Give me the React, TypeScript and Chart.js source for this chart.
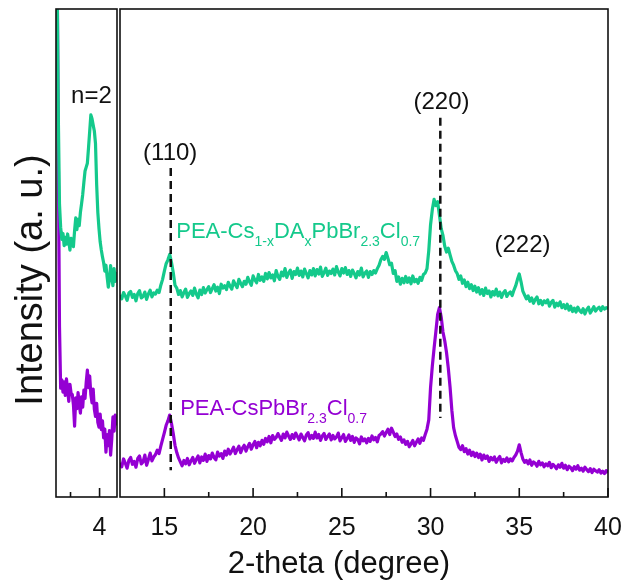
import React, { useEffect, useRef } from 'react';
import { Chart, registerables } from 'chart.js';

Chart.register(...registerables);

const FONT = '"Liberation Sans", Arial, Helvetica, sans-serif';
const GREEN = '#14C98B';
const PURPLE = '#9400D3';
const INK = '#111111';

// ---------- Left panel (low-angle region, n=2 phase) ----------
const LEFT_MIN = 3.25;
const LEFT_MAX = 4.3;
const LEFT_START = 3.25;
const LEFT_STEP = 0.02;
const leftTicks = [4];
const leftMinorTicks = [3.5];

const leftGreen = [
  140, 105, 78, 60, 55.3, 52.8, 54.0, 51.5, 53.2, 51.8, 53.9, 52.4, 50.6,
  53.0, 52.1, 51.3, 54.6, 57.2, 54.8, 56.9, 55.6, 58.3, 60.1, 62.0, 64.5, 66.8,
  67.6, 68.4, 71.6, 74.9, 78.3, 77.5, 76.2, 75.0, 72.4, 64.0, 58.3, 55.0,
  52.3, 50.6, 49.2, 48.0, 46.3, 47.5, 45.1, 43.0, 44.6, 47.4, 45.0, 43.3, 46.8, 44.2, 45.6, 46.0,
];

const leftPurple = [
  150, 110, 70, 35, 22.3, 24.0, 21.5, 23.6, 20.8, 24.2, 22.0, 19.6, 23.1,
  21.2, 21.0, 18.9, 14.5, 20.3, 18.1, 21.4, 19.0, 17.2, 20.5, 18.4, 21.9, 20.2,
  23.5, 26.0, 22.4, 24.8, 21.0, 19.3, 22.1, 18.0, 16.5, 19.2, 15.3, 14.3,
  17.0, 13.8, 15.6, 12.1, 13.9, 9.2, 12.8, 10.5, 13.6, 8.6, 11.9, 16.4, 13.5, 16.8, 15.0, 16.0,
];

// ---------- Right panel (12.5 - 40 degrees) ----------
const RIGHT_MIN = 12.5;
const RIGHT_MAX = 40;
const RIGHT_START = 12.5;
const RIGHT_STEP = 0.1;
const rightTicks = [15, 20, 25, 30, 35, 40];
const rightMinorTicks = [17.5, 22.5, 27.5, 32.5, 37.5];

const rightGreen = [
  41.4, 40.6, 41.9, 41.2, 40.3, 41.8, 42.1, 40.9, 41.5, 40.2, // 12.5
  41.7, 42.3, 40.8, 41.1, 42.0, 40.5, 41.6, 42.4, 41.0, 41.8, // 13.5
  41.6, 42.4, 41.9, 43.4, 44.6, 46.3, 47.8, 48.6, 49.7, 48.1, // 14.5
  46.0, 43.4, 42.8, 41.5, 42.3, 41.0, 41.9, 42.6, 40.9, 41.7, // 15.5
  42.2, 41.3, 42.8, 41.6, 40.8, 42.4, 41.5, 42.9, 41.8, 42.5, // 16.5
  43.1, 41.9, 42.7, 43.5, 42.2, 43.0, 41.7, 43.6, 42.8, 43.3, // 17.5
  42.5, 44.0, 43.2, 42.6, 44.3, 43.5, 42.9, 44.6, 43.8, 43.1, // 18.5
  44.2, 43.6, 45.0, 44.1, 43.4, 45.3, 44.5, 43.9, 45.6, 44.4, // 19.5
  45.1, 44.2, 45.8, 44.7, 46.0, 44.9, 45.5, 44.3, 46.4, 45.2, // 20.5
  44.6, 46.1, 45.3, 46.8, 45.0, 45.9, 46.5, 44.8, 46.2, 45.6, // 21.5
  46.9, 45.4, 46.3, 45.1, 46.7, 45.8, 44.9, 46.4, 45.5, 46.8, // 22.5
  45.3, 46.6, 45.7, 47.1, 45.2, 46.0, 46.9, 45.4, 46.3, 45.8, // 23.5
  46.7, 45.5, 47.2, 46.1, 45.3, 46.8, 45.9, 47.0, 45.6, 46.4, // 24.5
  45.2, 46.5, 45.8, 44.9, 46.2, 45.5, 46.9, 45.1, 45.9, 46.3, // 25.5
  45.0, 46.2, 45.6, 46.4, 45.9, 46.8, 47.5, 48.6, 49.3, 48.7, // 26.5
  50.1, 48.9, 47.6, 47.9, 45.8, 46.4, 44.2, 45.1, 43.6, 44.8, // 27.5
  43.9, 45.2, 44.0, 44.9, 43.7, 45.3, 44.1, 44.6, 43.8, 45.0, // 28.5
  44.4, 45.6, 45.9, 46.8, 50.5, 55.8, 58.9, 61.0, 59.7, 60.5, // 29.5
  57.8, 55.0, 53.6, 51.4, 50.2, 51.0, 49.6, 48.3, 47.5, 46.4, // 30.5
  45.8, 44.6, 45.3, 43.8, 44.5, 43.1, 44.0, 42.7, 43.5, 42.3, // 31.5
  43.2, 42.0, 42.9, 41.6, 42.5, 41.3, 42.8, 41.7, 42.2, 41.0, // 32.5
  42.1, 41.4, 42.6, 41.2, 42.0, 40.9, 41.8, 42.3, 41.1, 41.7, // 33.5
  42.0, 41.3, 42.4, 43.3, 44.6, 45.7, 44.1, 42.2, 41.4, 40.6, // 34.5
  41.2, 40.1, 40.8, 39.7, 40.5, 41.0, 39.6, 40.3, 39.4, 40.2, // 35.5
  39.8, 40.4, 39.1, 39.9, 40.3, 38.9, 39.7, 39.2, 40.0, 38.8, // 36.5
  39.4, 38.6, 39.5, 38.3, 39.1, 38.0, 38.7, 37.9, 38.9, 38.2, // 37.5
  37.8, 38.6, 37.5, 38.4, 38.9, 37.7, 38.3, 39.0, 38.1, 38.6, // 38.5
  38.9, 38.2, 39.0, 38.5, 38.8, 38.6, // 39.5
];

const rightPurple = [
  7.0, 6.2, 7.8, 6.9, 5.9, 7.5, 8.1, 6.7, 7.3, 6.1, // 12.5
  7.9, 8.4, 6.8, 7.2, 8.6, 6.5, 7.7, 9.0, 7.4, 8.2, // 13.5
  8.7, 9.6, 8.9, 10.4, 11.8, 13.2, 14.7, 15.6, 16.8, 15.1, // 14.5
  13.0, 10.6, 9.1, 8.0, 7.2, 6.4, 7.5, 6.8, 7.9, 6.6, // 15.5
  7.4, 8.1, 6.9, 7.7, 8.4, 7.0, 8.2, 7.5, 8.8, 7.3, // 16.5
  8.5, 7.8, 9.0, 8.1, 7.6, 9.2, 8.4, 8.9, 7.9, 9.4, // 17.5
  8.6, 9.8, 8.8, 9.5, 10.2, 8.9, 9.7, 10.4, 9.1, 10.0, // 18.5
  10.6, 9.4, 10.3, 11.0, 9.8, 10.7, 11.4, 10.1, 11.2, 10.5, // 19.5
  11.6, 10.8, 12.0, 11.3, 12.4, 11.1, 12.6, 11.8, 12.2, 13.0, // 20.5
  12.3, 11.6, 12.9, 12.1, 13.3, 12.5, 11.8, 12.8, 12.0, 13.1, // 21.5
  12.4, 11.7, 12.9, 12.2, 11.5, 12.7, 13.2, 11.9, 12.6, 12.0, // 22.5
  13.3, 12.1, 12.8, 11.6, 12.5, 13.0, 11.8, 12.4, 12.9, 11.7, // 23.5
  12.6, 11.9, 12.3, 13.1, 11.5, 12.2, 12.8, 11.4, 12.0, 12.7, // 24.5
  11.6, 12.4, 11.2, 12.1, 11.8, 10.9, 12.3, 11.5, 11.9, 11.1, // 25.5
  12.0, 11.4, 12.5, 11.7, 12.2, 11.3, 12.6, 12.9, 13.4, 12.5, // 26.5
  13.2, 13.9, 12.8, 14.1, 13.3, 12.4, 12.9, 11.8, 12.3, 11.2, // 27.5
  11.7, 10.8, 11.4, 10.3, 10.9, 11.6, 10.5, 11.2, 11.9, 11.0, // 28.5
  12.1, 11.6, 12.8, 13.9, 15.8, 22.4, 26.8, 30.5, 33.9, 37.4, // 29.5
  38.8, 36.9, 33.8, 32.0, 29.6, 26.4, 22.5, 17.8, 14.2, 12.6, // 30.5
  11.4, 10.2, 9.7, 10.5, 9.3, 9.9, 8.8, 9.6, 8.5, 9.2, // 31.5
  8.3, 9.0, 8.1, 8.8, 7.6, 8.6, 7.9, 8.4, 7.3, 8.1, // 32.5
  7.6, 8.2, 7.1, 7.8, 8.3, 7.0, 7.7, 7.3, 8.0, 7.2, // 33.5
  7.8, 7.4, 8.1, 8.6, 9.4, 10.7, 9.1, 7.8, 7.1, 7.5, // 34.5
  6.8, 7.6, 6.5, 7.2, 6.9, 6.3, 7.3, 6.6, 7.0, 6.2, // 35.5
  6.8, 6.4, 7.1, 6.0, 6.7, 6.3, 5.8, 6.6, 6.1, 6.9, // 36.5
  5.9, 6.5, 5.6, 6.3, 6.0, 5.4, 6.2, 5.7, 6.4, 5.5, // 37.5
  5.9, 5.3, 6.1, 5.6, 5.2, 5.8, 5.0, 5.7, 5.4, 5.1, // 38.5
  5.6, 4.9, 5.3, 4.8, 5.4, 5.0, // 39.5
];

// Reference peak positions (dashed guides) and their labels
const peakLabels = ['(110)', '(220)', '(222)'];
const peakLabelAngles = [15.33, 30.62, 35.18];
const peakLabelHeights = [70.5, 80.9, 51.6];
const guideAngles = [15.36, 30.55];
const guideTops = [67.4, 77.7];
const guideBottoms = [5.5, 16.2];

// Series names (even index = normal text, odd index = subscript)
const greenNameParts = ['PEA-Cs', '1-x', 'DA', 'x', 'PbBr', '2.3', 'Cl', '0.7'];
const purpleNameParts = ['PEA-CsPbBr', '2.3', 'Cl', '0.7'];
const greenNameAnchor = [15.67, 53.1];
const purpleNameAnchor = [15.89, 16.9];

const phaseLabel = 'n=2';
const phaseLabelAnchor = [3.86, 82.0];

const xTitle = '2-theta (degree)';
const yTitle = 'Intensity (a. u.)';

function toPoints(start: number, step: number, values: number[]) {
  return values.map((v, i) => ({ x: Math.round((start + i * step) * 1000) / 1000, y: v }));
}

function framePlugin(major: number[], minor: number[]) {
  return {
    id: 'frameTicks',
    afterDatasetsDraw(chart: any) {
      const { ctx, chartArea: a, scales } = chart;
      const xs = scales.x;
      ctx.save();
      ctx.strokeStyle = INK;
      ctx.lineWidth = 1.6;
      ctx.strokeRect(a.left, a.top, a.right - a.left, a.bottom - a.top);
      const tick = (v: number, len: number) => {
        const px = xs.getPixelForValue(v);
        ctx.beginPath();
        ctx.moveTo(px, a.bottom);
        ctx.lineTo(px, a.bottom - len);
        ctx.stroke();
      };
      major.forEach((v) => tick(v, 9));
      minor.forEach((v) => tick(v, 5));
      ctx.restore();
    },
  };
}

function drawRich(ctx: CanvasRenderingContext2D, parts: string[], x: number, y: number, color: string) {
  let cx = x;
  ctx.fillStyle = color;
  ctx.textAlign = 'left';
  ctx.textBaseline = 'alphabetic';
  parts.forEach((t, i) => {
    const sub = i % 2 === 1;
    ctx.font = `${sub ? 14 : 22}px ${FONT}`;
    ctx.fillText(t, cx, sub ? y + 8 : y);
    cx += ctx.measureText(t).width;
  });
}

const rightTextPlugin = {
  id: 'rightText',
  afterDatasetsDraw(chart: any) {
    const { ctx, scales } = chart;
    const xs = scales.x;
    const ys = scales.y;
    ctx.save();
    ctx.fillStyle = INK;
    ctx.font = `24px ${FONT}`;
    ctx.textAlign = 'center';
    ctx.textBaseline = 'middle';
    peakLabels.forEach((t, i) => {
      ctx.fillText(t, xs.getPixelForValue(peakLabelAngles[i]), ys.getPixelForValue(peakLabelHeights[i]));
    });
    drawRich(ctx, greenNameParts, xs.getPixelForValue(greenNameAnchor[0]), ys.getPixelForValue(greenNameAnchor[1]), GREEN);
    drawRich(ctx, purpleNameParts, xs.getPixelForValue(purpleNameAnchor[0]), ys.getPixelForValue(purpleNameAnchor[1]), PURPLE);
    // shared x-axis title, centred under both panels
    ctx.fillStyle = INK;
    ctx.font = `31px ${FONT}`;
    ctx.textAlign = 'center';
    ctx.textBaseline = 'middle';
    ctx.fillText(xTitle, 221, 564);
    ctx.restore();
  },
};

const leftTextPlugin = {
  id: 'leftText',
  afterDatasetsDraw(chart: any) {
    const { ctx, scales } = chart;
    ctx.save();
    ctx.fillStyle = INK;
    ctx.font = `24px ${FONT}`;
    ctx.textAlign = 'center';
    ctx.textBaseline = 'middle';
    ctx.fillText(phaseLabel, scales.x.getPixelForValue(phaseLabelAnchor[0]), scales.y.getPixelForValue(phaseLabelAnchor[1]));
    ctx.translate(32, 280);
    ctx.rotate(-Math.PI / 2);
    ctx.font = `38px ${FONT}`;
    ctx.fillText(yTitle, 0, 0);
    ctx.restore();
  },
};

function lineDs(data: any[], color: string, width: number, dash: number[] = []) {
  return {
    data,
    borderColor: color,
    borderWidth: width,
    borderDash: dash,
    pointRadius: 0,
    tension: 0,
    fill: false,
    clip: 0,
    borderJoinStyle: 'round' as const,
  };
}

function baseOptions(min: number, max: number, ticks: number[], padding: any) {
  return {
    animation: false as const,
    responsive: false,
    events: [],
    layout: { padding },
    plugins: { legend: { display: false }, tooltip: { enabled: false } },
    scales: {
      x: {
        type: 'linear' as const,
        min,
        max,
        grid: { display: false },
        border: { display: false },
        afterBuildTicks: (s: any) => {
          s.ticks = ticks.map((v) => ({ value: v }));
        },
        afterFit: (s: any) => {
          s.height = 89;
          s.paddingLeft = 0;
          s.paddingRight = 0;
        },
        ticks: {
          font: { family: FONT, size: 25 },
          color: INK,
          padding: 8,
          maxRotation: 0,
          autoSkip: false,
          callback: (v: any) => String(v),
        },
      },
      y: { display: false, min: 0, max: 100 },
    },
  };
}

export default function App() {
  const leftRef = useRef<HTMLCanvasElement>(null);
  const rightRef = useRef<HTMLCanvasElement>(null);

  useEffect(() => {
    const left = new Chart(leftRef.current as HTMLCanvasElement, {
      type: 'line',
      data: {
        datasets: [
          lineDs(toPoints(LEFT_START, LEFT_STEP, leftGreen), GREEN, 3.2),
          lineDs(toPoints(LEFT_START, LEFT_STEP, leftPurple), PURPLE, 3.2),
        ],
      },
      options: baseOptions(LEFT_MIN, LEFT_MAX, leftTicks, { left: 56, right: 1, top: 9, bottom: 0 }) as any,
      plugins: [framePlugin(leftTicks, leftMinorTicks), leftTextPlugin],
    });

    const right = new Chart(rightRef.current as HTMLCanvasElement, {
      type: 'line',
      data: {
        datasets: [
          ...guideAngles.map((a, i) =>
            lineDs([{ x: a, y: guideTops[i] }, { x: a, y: guideBottoms[i] }], INK, 2.5, [8, 5])
          ),
          lineDs(toPoints(RIGHT_START, RIGHT_STEP, rightGreen), GREEN, 3.2),
          lineDs(toPoints(RIGHT_START, RIGHT_STEP, rightPurple), PURPLE, 3.2),
        ],
      },
      options: baseOptions(RIGHT_MIN, RIGHT_MAX, rightTicks, { left: 2, right: 19, top: 9, bottom: 0 }) as any,
      plugins: [framePlugin(rightTicks, rightMinorTicks), rightTextPlugin],
    });

    return () => {
      left.destroy();
      right.destroy();
    };
  }, []);

  return (
    <div style={{ position: 'fixed', left: 0, top: 0, width: 627, height: 586, background: '#ffffff' }}>
      <canvas ref={leftRef} width={118} height={586} style={{ position: 'absolute', left: 0, top: 0 }} />
      <canvas ref={rightRef} width={509} height={586} style={{ position: 'absolute', left: 118, top: 0 }} />
    </div>
  );
}
